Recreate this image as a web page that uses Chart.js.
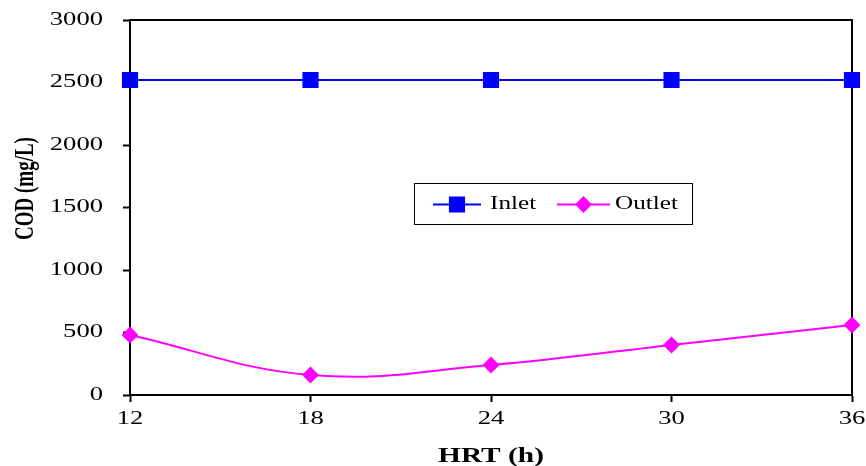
<!DOCTYPE html>
<html>
<head>
<meta charset="utf-8">
<script src="https://cdn.jsdelivr.net/npm/chart.js@4.4.1/dist/chart.umd.min.js"></script>
<style>
  html, body { margin: 0; padding: 0; background: #fff; }
  #wrap { width: 866px; height: 466px; }
</style>
</head>
<body>
<div id="wrap"><canvas id="codChart" width="866" height="466"></canvas></div>
<script>
const hrt = [12, 18, 24, 30, 36];
const inletCod = [2520, 2520, 2520, 2520, 2520];
const outletCod = [480, 160, 240, 400, 560];
const yTicks = [0, 500, 1000, 1500, 2000, 2500, 3000];

const FONT = 'Liberation Serif';
const TEXT_STRETCH = 1.4;

// the original figure has its text widened sideways, so widen every fillText
// about its anchor point (screen horizontal, also for the rotated title)
function stretchText(ctx, sx) {
    const fill = ctx.fillText.bind(ctx);
    ctx.fillText = (text, x, y, maxWidth) => {
        const t = ctx.getTransform();
        const px = t.a * x + t.c * y + t.e;
        ctx.save();
        ctx.setTransform(new DOMMatrix().translate(px, 0).scale(sx, 1).translate(-px, 0).multiply(t));
        if (maxWidth === undefined) fill(text, x, y);
        else fill(text, x, y, maxWidth);
        ctx.restore();
    };
}

// box round the plot area (top and right edges too)
const frame = {
    id: 'frame',
    beforeDatasetsDraw(chart) {
        const { ctx, chartArea: a } = chart;
        ctx.save();
        ctx.strokeStyle = '#000';
        ctx.lineWidth = 2;
        ctx.strokeRect(a.left, a.top, a.right - a.left, a.bottom - a.top);
        ctx.restore();
    },
};

// legend drawn inside the plot, Excel style
const boxLegend = {
    id: 'boxLegend',
    afterDraw(chart) {
        const { ctx } = chart;
        const x = 414, y = 183, w = 278, h = 41;
        ctx.save();
        ctx.fillStyle = '#fff';
        ctx.fillRect(x, y, w, h);
        ctx.strokeStyle = '#000';
        ctx.lineWidth = 1;
        ctx.strokeRect(x + 0.5, y + 0.5, w, h);
        const items = [
            { x0: 433, x1: 481, tx: 490 },
            { x0: 557, x1: 610, tx: 615 },
        ];
        ctx.font = `18px "${FONT}"`;
        ctx.textBaseline = 'middle';
        chart.data.datasets.forEach((ds, i) => {
            const it = items[i];
            const cy = y + h / 2 + 1;
            ctx.strokeStyle = ds.borderColor;
            ctx.lineWidth = 2;
            ctx.beginPath();
            ctx.moveTo(it.x0, cy);
            ctx.lineTo(it.x1, cy);
            ctx.stroke();
            Chart.helpers.drawPoint(ctx, {
                pointStyle: ds.pointStyle,
                radius: ds.pointRadius,
                borderWidth: 1,
            }, (it.x0 + it.x1) / 2, cy);
            ctx.fillStyle = ds.pointBackgroundColor;
            ctx.fill();
            ctx.fillStyle = '#000';
            ctx.fillText(ds.label, it.tx, cy);
        });
        ctx.restore();
    },
};

const canvas = document.getElementById('codChart');
stretchText(canvas.getContext('2d'), TEXT_STRETCH);

new Chart(canvas, {
    type: 'line',
    data: {
        datasets: [
            {
                label: 'Inlet',
                data: hrt.map((h, i) => ({ x: h, y: inletCod[i] })),
                borderColor: '#0000ff',
                backgroundColor: '#0000ff',
                pointBackgroundColor: '#0000ff',
                pointBorderColor: '#0000ff',
                pointStyle: 'rect',
                pointRadius: 10,
                borderWidth: 2,
                tension: 0,
            },
            {
                label: 'Outlet',
                data: hrt.map((h, i) => ({ x: h, y: outletCod[i] })),
                borderColor: '#ff00ff',
                backgroundColor: '#ff00ff',
                pointBackgroundColor: '#ff00ff',
                pointBorderColor: '#ff00ff',
                pointStyle: 'rectRot',
                pointRadius: 7,
                borderWidth: 2,
                tension: 0.4,
            },
        ],
    },
    options: {
        responsive: false,
        animation: false,
        clip: false,
        layout: { padding: { top: 20, right: 14, left: 0, bottom: 0 } },
        plugins: {
            legend: { display: false },
            tooltip: { enabled: false },
        },
        scales: {
            x: {
                type: 'linear',
                min: 12,
                max: 36,
                afterBuildTicks: scale => { scale.ticks = hrt.map(v => ({ value: v })); },
                afterFit: scale => { scale.height = 71; scale.paddingRight = 0; scale.paddingLeft = 0; },
                border: { color: '#000', width: 2 },
                grid: { drawOnChartArea: false, tickLength: 7, color: '#000', tickWidth: 2 },
                ticks: { color: '#000', padding: 6, callback: v => String(v), font: { family: FONT, size: 19 } },
                title: {
                    display: true,
                    text: 'HRT (h)',
                    color: '#000',
                    padding: { top: 10, bottom: -3 },
                    font: { family: FONT, size: 21, weight: 'bold' },
                },
            },
            y: {
                min: 0,
                max: 3000,
                afterBuildTicks: scale => { scale.ticks = yTicks.map(v => ({ value: v })); },
                afterFit: scale => { scale.width = 130; scale.paddingTop = 0; scale.paddingBottom = 0; },
                border: { color: '#000', width: 2 },
                grid: { drawOnChartArea: false, tickLength: 7, color: '#000', tickWidth: 2 },
                ticks: { color: '#000', padding: 20, callback: v => String(v), font: { family: FONT, size: 19 } },
                title: {
                    display: true,
                    // leading spaces lift the title a little, as in the original
                    text: '        COD (mg/L)',
                    color: '#000',
                    padding: { top: 15, bottom: 0 },
                    font: { family: FONT, size: 19, weight: 'bold' },
                },
            },
        },
    },
    plugins: [frame, boxLegend],
});
</script>
</body>
</html>
